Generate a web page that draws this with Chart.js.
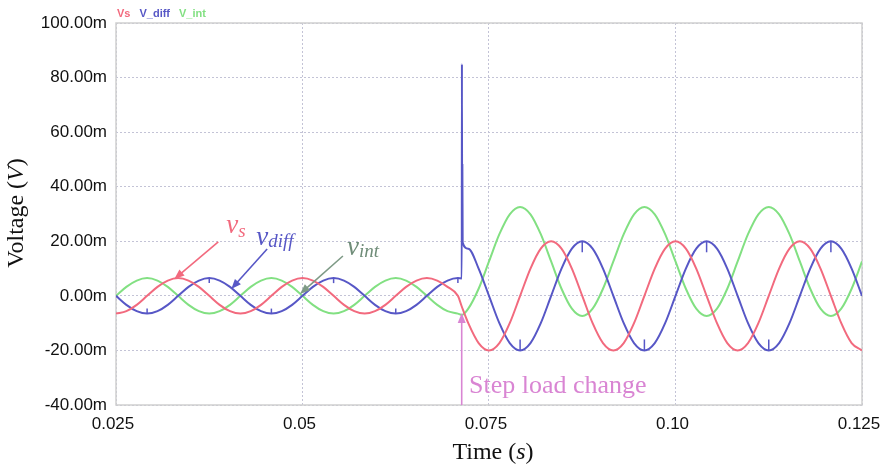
<!DOCTYPE html>
<html>
<head>
<meta charset="utf-8">
<title>Voltage waveforms under a step load change</title>
<script src="https://cdn.jsdelivr.net/npm/chart.js@4/dist/chart.umd.min.js"></script>
<style>
  html, body { margin: 0; padding: 0; background: #ffffff; }
  #wrap { width: 883px; height: 465px; }
</style>
</head>
<body>
<div id="wrap"><canvas id="chart" width="883" height="465"></canvas></div>
<script>
// ---- sample times (s) ----
const preTime = [0.02500, 0.02639, 0.02778, 0.02917, 0.03056, 0.03194, 0.03333, 0.03472, 0.03611, 0.03750,
  0.03889, 0.04028, 0.04167, 0.04306, 0.04444, 0.04583, 0.04722, 0.04861, 0.05000, 0.05139,
  0.05278, 0.05417, 0.05556, 0.05694, 0.05833, 0.05972, 0.06111, 0.06250, 0.06389, 0.06528,
  0.06667, 0.06806, 0.06944, 0.07083];
const stepTime = [0.07136];
const spikeTime = [0.07135, 0.07137, 0.07140, 0.07143, 0.07147];
const postTime = [0.07222, 0.07361, 0.07500, 0.07639, 0.07778, 0.07917, 0.08056, 0.08194, 0.08333, 0.08472,
  0.08611, 0.08750, 0.08889, 0.09028, 0.09167, 0.09306, 0.09444, 0.09583, 0.09722, 0.09861,
  0.10000, 0.10139, 0.10278, 0.10417, 0.10556, 0.10694, 0.10833, 0.10972, 0.11111, 0.11250,
  0.11389, 0.11528, 0.11667, 0.11806, 0.11944, 0.12083, 0.12222, 0.12361, 0.12500];

// ---- voltages (mV) ----
const vsPre = [-6.5, -5.6, -3.3, 0, 3.3, 5.6, 6.5, 5.6, 3.3, 0, -3.3, -5.6,
  -6.5, -5.6, -3.3, 0, 3.3, 5.6, 6.5, 5.6, 3.3, 0, -3.3, -5.6,
  -6.5, -5.6, -3.3, 0, 3.3, 5.6, 6.5, 5.6, 3.3, 0];
const vsStep = [-4.0];
const vsPost = [-10, -17.3, -20, -17.3, -10, 0, 10, 17.3, 20, 17.3, 10, 0,
  -10, -17.3, -20, -17.3, -10, 0, 10, 17.3, 20, 17.3, 10, 0,
  -10, -17.3, -20, -17.3, -10, 0, 10, 17.3, 20, 17.3, 10, 0,
  -10, -17.3, -20];

const vDiffPre = [0, -3.3, -5.6, -6.5, -5.6, -3.3, 0, 3.3, 5.6, 6.5, 5.6, 3.3,
  0, -3.3, -5.6, -6.5, -5.6, -3.3, 0, 3.3, 5.6, 6.5, 5.6, 3.3,
  0, -3.3, -5.6, -6.5, -5.6, -3.3, 0, 3.3, 5.6, 6.5];
const vDiffSpike = [6.4, 85, 19.6, 48, 19.5];
const vDiffPost = [17.3, 10, 0, -10, -17.3, -20, -17.3, -10, 0, 10, 17.3, 20,
  17.3, 10, 0, -10, -17.3, -20, -17.3, -10, 0, 10, 17.3, 20,
  17.3, 10, 0, -10, -17.3, -20, -17.3, -10, 0, 10, 17.3, 20,
  17.3, 10, 0];

const vIntPre = [0, 3.3, 5.6, 6.5, 5.6, 3.3, 0, -3.3, -5.6, -6.5, -5.6, -3.3,
  0, 3.3, 5.6, 6.5, 5.6, 3.3, 0, -3.3, -5.6, -6.5, -5.6, -3.3,
  0, 3.3, 5.6, 6.5, 5.6, 3.3, 0, -3.3, -5.6, -6.5];
const vIntStep = [-7.0];
const vIntPost = [-4.7, 2.6, 12.6, 22.6, 29.9, 32.6, 29.9, 22.6, 12.6, 2.6, -4.7, -7.4,
  -4.7, 2.6, 12.6, 22.6, 29.9, 32.6, 29.9, 22.6, 12.6, 2.6, -4.7, -7.4,
  -4.7, 2.6, 12.6, 22.6, 29.9, 32.6, 29.9, 22.6, 12.6, 2.6, -4.7, -7.4,
  -4.7, 2.6, 12.6];

// ---- axes ----
const xTickValues = [0.025, 0.05, 0.075, 0.10, 0.125];
const xTickLabels = ['0.025', '0.05', '0.075', '0.10', '0.125'];
const yTickValues = [-40, -20, 0, 20, 40, 60, 80, 100];
const yTickLabels = ['-40.00m', '-20.00m', '0.00m', '20.00m', '40.00m', '60.00m', '80.00m', '100.00m'];

const RED = '#f26a7e';
const BLUE = '#5757c6';
const GREEN = '#82e082';
const MAGENTA = '#d985d3';
const SERIF = '"Liberation Serif", "Times New Roman", serif';
const SANS = '"Liberation Sans", Arial, sans-serif';

function series(times, values) {
  return times.map((t, i) => ({ x: t, y: values[i] }));
}

// annotation arrows and labels, in data units (s, mV)
const arrows = [
  { from: [0.03871, 19.75], to: [0.03282, 6.2], color: RED },
  { from: [0.04526, 17.2], to: [0.04045, 2.5], color: BLUE },
  { from: [0.05542, 14.6], to: [0.04967, 0.7], color: '#7e9a86' },
  { from: [0.07134, -40], to: [0.07134, -6.3], color: MAGENTA }
];
const symbolLabels = [
  { at: [0.03978, 23.0], main: 'v', sub: 's', color: RED, subDrop: 4 },
  { at: [0.04379, 18.65], main: 'v', sub: 'diff', color: BLUE, subDrop: 2 },
  { at: [0.05596, 14.99], main: 'v', sub: 'int', color: '#6f8c78', subDrop: 2 }
];
const stepLabel = { at: [0.07232, -35.6], text: 'Step load change', color: MAGENTA };

const frame = {
  id: 'frame',
  beforeDatasetsDraw(chart) {
    const { ctx, chartArea: a } = chart;
    ctx.save();
    ctx.strokeStyle = '#cfcfcf';
    ctx.lineWidth = 1.5;
    ctx.strokeRect(a.left, a.top, a.right - a.left, a.bottom - a.top);
    ctx.restore();
  }
};

// small vertical markers at the extremes of the V_diff trace
const peakMarks = {
  id: 'peakMarks',
  afterDatasetsDraw(chart) {
    const ctx = chart.ctx;
    const meta = chart.getDatasetMeta(1);
    const data = chart.data.datasets[1].data;
    ctx.save();
    ctx.strokeStyle = BLUE;
    ctx.lineWidth = 1.5;
    for (let i = 1; i < data.length - 1; i++) {
      const p = data[i].y, a = data[i - 1].y, b = data[i + 1].y;
      if (Math.abs(p) > 21 || Math.abs(a) > 21 || Math.abs(b) > 21) continue;
      const isMax = p > a && p >= b;
      const isMin = p < a && p <= b;
      if (!isMax && !isMin) continue;
      const len = Math.abs(p) > 10 ? 11 : 5;
      const pt = meta.data[i];
      ctx.beginPath();
      ctx.moveTo(pt.x, pt.y);
      ctx.lineTo(pt.x, pt.y + (isMax ? len : -len));
      ctx.stroke();
    }
    ctx.restore();
  }
};

function drawMixed(ctx, parts, x, y, align) {
  let total = 0;
  parts.forEach(p => { ctx.font = p.font; p.w = ctx.measureText(p.text).width; total += p.w; });
  let cx = align === 'center' ? x - total / 2 : x;
  parts.forEach(p => { ctx.font = p.font; ctx.fillText(p.text, cx, y); cx += p.w; });
}

const annotations = {
  id: 'annotations',
  afterDraw(chart) {
    const { ctx, scales: { x, y }, chartArea } = chart;
    const px = v => x.getPixelForValue(v);
    const py = v => y.getPixelForValue(v);
    ctx.save();
    ctx.textBaseline = 'alphabetic';
    ctx.textAlign = 'left';

    // legend
    const ds = chart.data.datasets;
    let lx = chartArea.left + 1;
    ctx.font = 'bold 11px ' + SANS;
    ds.forEach(d => {
      ctx.fillStyle = d.borderColor;
      ctx.fillText(d.label, lx, 17);
      lx += ctx.measureText(d.label).width + 9;
    });

    // arrows
    arrows.forEach(a => {
      const x0 = px(a.from[0]), y0 = py(a.from[1]);
      const x1 = px(a.to[0]), y1 = py(a.to[1]);
      const ang = Math.atan2(y1 - y0, x1 - x0);
      const head = 10, half = 4;
      ctx.strokeStyle = a.color;
      ctx.fillStyle = a.color;
      ctx.lineWidth = 1.6;
      ctx.beginPath();
      ctx.moveTo(x0, y0);
      ctx.lineTo(x1 - Math.cos(ang) * head * 0.8, y1 - Math.sin(ang) * head * 0.8);
      ctx.stroke();
      ctx.beginPath();
      ctx.moveTo(x1, y1);
      ctx.lineTo(x1 - Math.cos(ang) * head + Math.sin(ang) * half, y1 - Math.sin(ang) * head - Math.cos(ang) * half);
      ctx.lineTo(x1 - Math.cos(ang) * head - Math.sin(ang) * half, y1 - Math.sin(ang) * head + Math.cos(ang) * half);
      ctx.closePath();
      ctx.fill();
    });

    // symbol labels
    symbolLabels.forEach(s => {
      const sx = px(s.at[0]), sy = py(s.at[1]);
      ctx.fillStyle = s.color;
      ctx.font = 'italic 27px ' + SERIF;
      ctx.fillText(s.main, sx, sy);
      const w = ctx.measureText(s.main).width;
      ctx.font = 'italic 19px ' + SERIF;
      ctx.fillText(s.sub, sx + w, sy + s.subDrop);
    });

    // step label
    ctx.fillStyle = stepLabel.color;
    ctx.font = '26px ' + SERIF;
    ctx.fillText(stepLabel.text, px(stepLabel.at[0]), py(stepLabel.at[1]));

    // axis titles
    ctx.fillStyle = '#111111';
    drawMixed(ctx, [
      { text: 'Time (', font: '24px ' + SERIF },
      { text: 's', font: 'italic 24px ' + SERIF },
      { text: ')', font: '24px ' + SERIF }
    ], (chartArea.left + chartArea.right) / 2 + 4, 459, 'center');

    ctx.save();
    ctx.translate(23, (chartArea.top + chartArea.bottom) / 2 - 1);
    ctx.rotate(-Math.PI / 2);
    drawMixed(ctx, [
      { text: 'Voltage (', font: '24px ' + SERIF },
      { text: 'V', font: 'italic 24px ' + SERIF },
      { text: ')', font: '24px ' + SERIF }
    ], 0, 0, 'center');
    ctx.restore();

    ctx.restore();
  }
};

const gridStyle = { color: '#c3c3d6', lineWidth: 1, drawTicks: false };

new Chart(document.getElementById('chart'), {
  type: 'line',
  data: {
    datasets: [
      {
        label: 'Vs',
        data: [...series(preTime, vsPre), ...series(stepTime, vsStep), ...series(postTime, vsPost)],
        borderColor: RED
      },
      {
        label: 'V_diff',
        data: [...series(preTime, vDiffPre), ...series(spikeTime, vDiffSpike), ...series(postTime, vDiffPost)],
        borderColor: BLUE
      },
      {
        label: 'V_int',
        data: [...series(preTime, vIntPre), ...series(stepTime, vIntStep), ...series(postTime, vIntPost)],
        borderColor: GREEN
      }
    ]
  },
  options: {
    responsive: false,
    animation: false,
    devicePixelRatio: 1,
    layout: { padding: { top: 23, right: 21, left: 0, bottom: 0 } },
    elements: {
      point: { radius: 0 },
      line: { borderWidth: 2, cubicInterpolationMode: 'monotone', fill: false }
    },
    plugins: {
      legend: { display: false },
      tooltip: { enabled: false }
    },
    scales: {
      x: {
        type: 'linear',
        min: 0.025,
        max: 0.125,
        afterBuildTicks: s => { s.ticks = xTickValues.map(v => ({ value: v })); },
        afterFit: s => { s.height = 60; s.paddingLeft = 0; s.paddingRight = 0; },
        ticks: {
          callback: (v, i) => xTickLabels[i],
          font: { family: SANS, size: 17 },
          color: '#111111',
          padding: 9,
          labelOffset: -3,
          maxRotation: 0,
          autoSkip: false
        },
        grid: gridStyle,
        border: { display: false, dash: [2, 2] }
      },
      y: {
        type: 'linear',
        min: -40,
        max: 100,
        afterBuildTicks: s => { s.ticks = yTickValues.map(v => ({ value: v })); },
        afterFit: s => { s.width = 116; s.paddingTop = 0; s.paddingBottom = 0; },
        ticks: {
          callback: (v, i) => yTickLabels[i],
          font: { family: SANS, size: 17 },
          color: '#111111',
          padding: 9,
          autoSkip: false
        },
        grid: gridStyle,
        border: { display: false, dash: [2, 2] }
      }
    }
  },
  plugins: [frame, peakMarks, annotations]
});
</script>
</body>
</html>
